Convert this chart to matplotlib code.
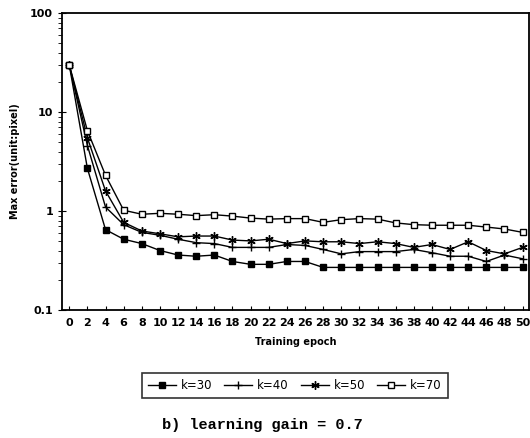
import matplotlib.pyplot as plt
import numpy as np
from matplotlib.ticker import LogLocator, NullFormatter, FixedLocator

# epochs where the error was sampled
epochs = list(range(0, 51, 2))

# max error for each k
k30 = [30, 2.7, 0.65, 0.52, 0.47, 0.40, 0.36, 0.35, 0.36, 0.31, 0.29, 0.29, 0.31,
       0.31, 0.27, 0.27, 0.27, 0.27, 0.27, 0.27, 0.27, 0.27, 0.27, 0.27, 0.27, 0.27]
k40 = [30, 4.6, 1.1, 0.73, 0.61, 0.57, 0.52, 0.48, 0.47, 0.43, 0.43, 0.43, 0.46,
       0.45, 0.41, 0.37, 0.39, 0.39, 0.39, 0.41, 0.38, 0.35, 0.35, 0.31, 0.36, 0.33]
k50 = [30, 5.5, 1.6, 0.77, 0.63, 0.59, 0.55, 0.56, 0.56, 0.51, 0.50, 0.52, 0.47,
       0.50, 0.49, 0.49, 0.47, 0.49, 0.47, 0.43, 0.46, 0.41, 0.49, 0.40, 0.37, 0.43]
k70 = [30, 6.5, 2.3, 1.02, 0.93, 0.95, 0.93, 0.90, 0.92, 0.89, 0.85, 0.83, 0.84,
       0.84, 0.77, 0.82, 0.84, 0.83, 0.76, 0.73, 0.72, 0.72, 0.72, 0.69, 0.66, 0.61]

series_labels = ['k=30', 'k=40', 'k=50', 'k=70']
x_tick_labels = [str(e) for e in epochs]

plt.rcParams['font.family'] = 'DejaVu Sans'

fig = plt.figure(figsize=(5.3, 4.38), dpi=100)
ax = fig.add_axes([0.117, 0.292, 0.881, 0.678])

ax.plot(epochs, k30, color='black', lw=1.0, marker='s', ms=4, mfc='black', label=series_labels[0])
ax.plot(epochs, k40, color='black', lw=1.0, marker='+', ms=6, mew=1.0, label=series_labels[1])
ax.plot(epochs, k50, color='black', lw=1.0, marker=(6, 2, 0), ms=6, mew=1.0, label=series_labels[2])
ax.plot(epochs, k70, color='black', lw=1.0, marker='s', ms=4.5, mfc='white', mew=1.0, label=series_labels[3])

ax.set_yscale('log')
ax.set_ylim(0.1, 100)
ax.set_xlim(-0.8, 50.7)
ax.set_yticks([0.1, 1, 10, 100])
ax.set_yticklabels(['0.1', '1', '10', '100'], fontsize=8, fontweight='bold')
ax.yaxis.set_minor_locator(LogLocator(base=10, subs=np.arange(2, 10)))
ax.yaxis.set_minor_formatter(NullFormatter())
ax.xaxis.set_major_locator(FixedLocator(epochs))
ax.set_xticklabels(x_tick_labels, fontsize=8, fontweight='bold')
ax.tick_params(axis='x', direction='in', length=3, pad=6)
ax.tick_params(axis='y', which='major', direction='inout', length=6)
ax.tick_params(axis='y', which='minor', direction='out', length=3)
for sp in ax.spines.values():
    sp.set_linewidth(1.3)

ax.set_xlabel('Training epoch', fontsize=7, fontweight='bold', labelpad=6)
ax.set_ylabel('Max error(unit:pixel)', fontsize=7, fontweight='bold', labelpad=7)

leg = fig.legend(loc='center', bbox_to_anchor=(0.556, 0.12), ncol=4, fontsize=8.5,
                 frameon=True, fancybox=False, edgecolor='black', handlelength=2.4,
                 columnspacing=1.0, handletextpad=0.4, borderpad=0.5)
leg.get_frame().set_linewidth(1.2)

fig.text(0.495, 0.03, 'b) learning gain = 0.7', ha='center', va='center',
         fontsize=11, family='Liberation Mono', fontweight='bold')

fig.savefig('out.png', dpi=100)
